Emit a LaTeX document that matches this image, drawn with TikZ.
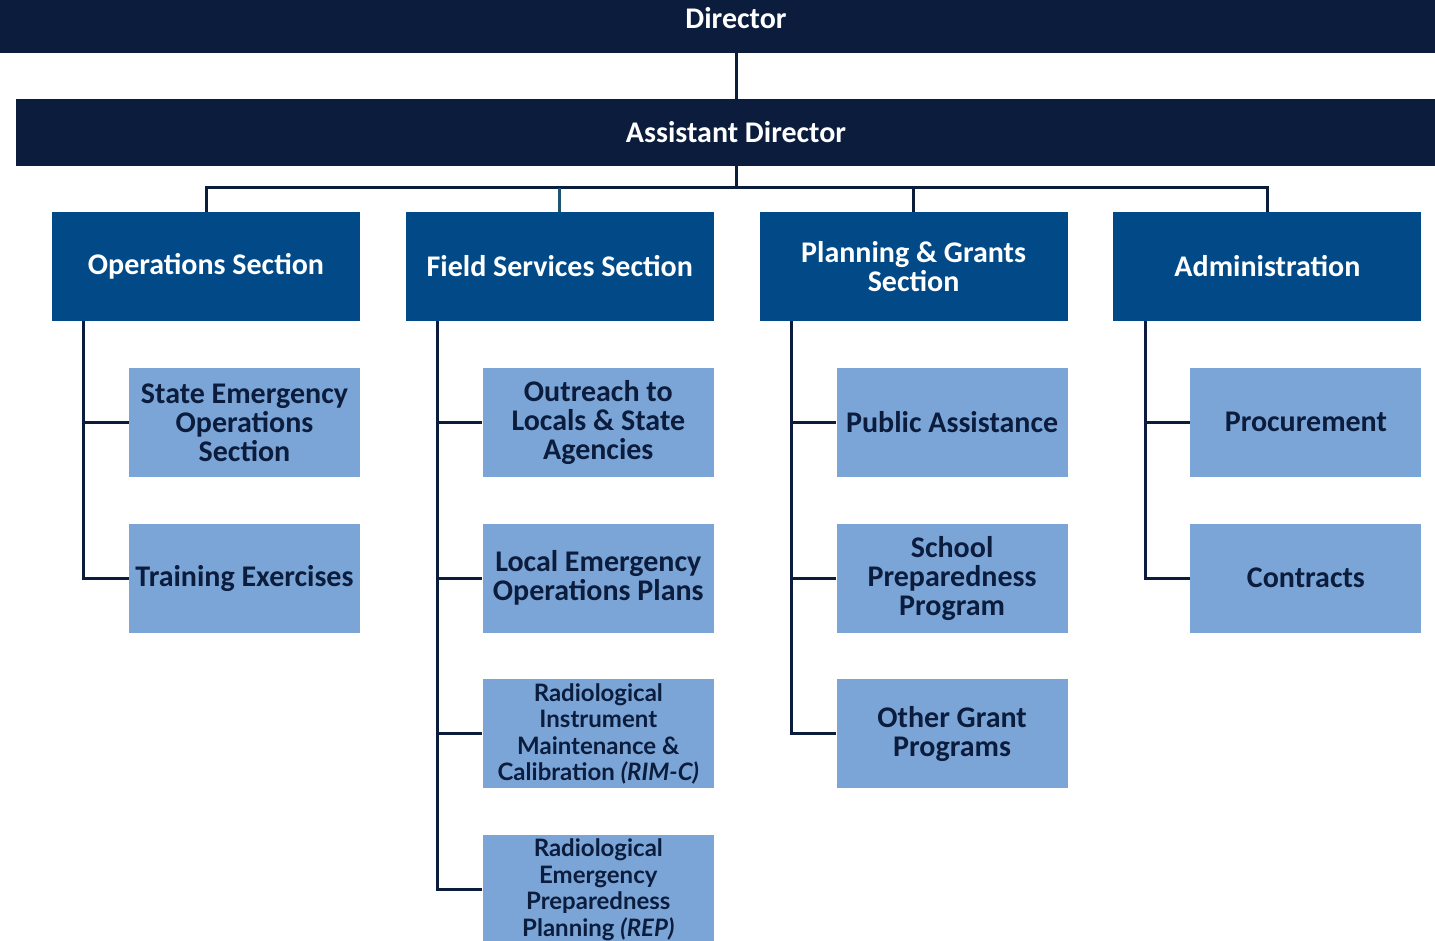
\documentclass[tikz,border=0pt]{standalone}
\usepackage{fontspec}
\setmainfont{Carlito}
\newfontfamily\widefont{Lato}
\usetikzlibrary{positioning}
\definecolor{navy}{HTML}{0B1C3D}
\definecolor{secblue}{HTML}{024A87}
\definecolor{subblue}{HTML}{7BA5D6}
\definecolor{dropteal}{HTML}{1D5470}

\begin{document}
\begin{tikzpicture}[x=0.5pt,y=-0.5pt,node distance=22.5pt]
  \tikzstyle{head}=[fill=navy,text=white,inner sep=0pt,font=\bfseries\fontsize{15}{15}\selectfont]
  \tikzstyle{sec}=[fill=secblue,text=white,minimum width=154pt,minimum height=54.5pt,inner sep=0pt,align=center,font=\bfseries\fontsize{15}{14.5}\selectfont]
  \tikzstyle{sub}=[fill=subblue,text=navy,minimum width=115.5pt,minimum height=54.5pt,inner sep=0pt,align=center,font=\bfseries\fontsize{15}{14.5}\selectfont]
  \tikzstyle{rad}=[sub,font=\widefont\bfseries\fontsize{12}{13.25}\selectfont]
  \tikzstyle{link}=[draw=navy,line width=1.5pt]
  \useasboundingbox (0,0) rectangle (1435,941);

  \node[head,minimum width=736pt,minimum height=26.5pt,text height=9.7pt,text depth=8pt] (dir) at (736,26.5) {Director};
  \node[head,minimum width=720pt,minimum height=33.5pt] (ad) at (736,132.5) {Assistant Director};
  \coordinate (bus) at (736,188);

  % sections
  \node[sec] (ops) at (206,266.5) {Operations Section};
  \node[sec,right=of ops] (fss) {Field Services Section};
  \node[sec,right=of fss] (pgs) {Planning \& Grants\\Section};
  \node[sec,right=of pgs] (adm) {Administration};

  % units
  \begin{scope}[node distance=23pt]
    \node[sub,below=of ops,xshift=19.25pt] (ops1) {State Emergency\\Operations\\Section};
    \node[sub,below=of ops1] (ops2) {Training Exercises};
    \node[sub,below=of fss,xshift=19.25pt] (fss1) {Outreach to\\Locals \& State\\Agencies};
    \node[sub,below=of fss1] (fss2) {Local Emergency\\Operations Plans};
    \node[rad,below=of fss2] (fss3) {Radiological\\Instrument\\Maintenance \&\\Calibration \textit{(RIM-C)}};
    \node[rad,below=of fss3] (fss4) {Radiological\\Emergency\\Preparedness\\Planning \textit{(REP)}};
    \node[sub,below=of pgs,xshift=19.25pt] (pgs1) {Public Assistance};
    \node[sub,below=of pgs1] (pgs2) {School\\Preparedness\\Program};
    \node[sub,below=of pgs2] (pgs3) {Other Grant\\Programs};
    \node[sub,below=of adm,xshift=19.25pt] (adm1) {Procurement};
    \node[sub,below=of adm1] (adm2) {Contracts};
  \end{scope}

  % top links
  \draw[link] (dir.south -| bus) -- (ad.north -| bus);
  \draw[link] (ad.south -| bus) -- (bus);
  \draw[link] (ops.north) -- (ops.north |- bus) -- (adm.north |- bus) -- (adm.north);
  \draw[link] (pgs.north) -- (pgs.north |- bus);
  \draw[link,draw=dropteal] (fss.north) -- (fss.north |- bus);

  % section spines
  \foreach \s/\u in {ops/ops1,ops/ops2,fss/fss1,fss/fss2,fss/fss3,fss/fss4,pgs/pgs1,pgs/pgs2,pgs/pgs3,adm/adm1,adm/adm2}
    \draw[link] ([xshift=16pt]\s.south west) |- (\u.west);
\end{tikzpicture}
\end{document}
